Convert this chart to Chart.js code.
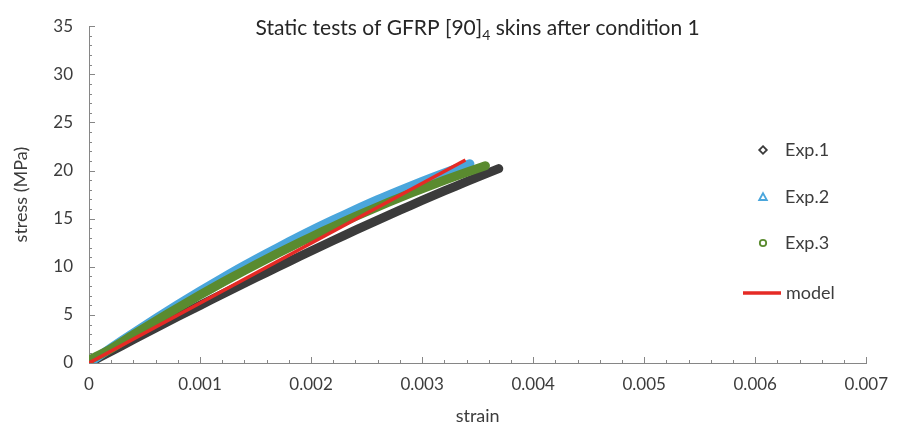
<!DOCTYPE html>
<html>
<head>
<meta charset="utf-8">
<script src="https://cdn.jsdelivr.net/npm/chart.js@4.4.1/dist/chart.umd.min.js"></script>
<style>
  html, body { margin: 0; padding: 0; background: #fff; }
</style>
</head>
<body>
<canvas id="grafica" width="899" height="429"></canvas>
<script>
// strain / stress readings for the three coupons, plus the model line
const strainExp1 = [0, 0.0002, 0.0004, 0.0006, 0.0008, 0.0010, 0.0012, 0.0014, 0.0016, 0.0018, 0.0020, 0.0022, 0.0024, 0.0026, 0.0028, 0.0030, 0.0032, 0.0034, 0.0036, 0.00369];
const stressExp1 = [0, 1.22, 2.43, 3.63, 4.82, 5.99, 7.15, 8.29, 9.42, 10.54, 11.64, 12.73, 13.8, 14.85, 15.88, 16.89, 17.88, 18.84, 19.78, 20.2];

const strainExp2 = [0, 0.0002, 0.0004, 0.0006, 0.0008, 0.0010, 0.0012, 0.0014, 0.0016, 0.0018, 0.0020, 0.0022, 0.0024, 0.0026, 0.0028, 0.0030, 0.0032, 0.00343];
const stressExp2 = [0, 1.59, 3.13, 4.62, 6.07, 7.47, 8.82, 10.13, 11.38, 12.59, 13.76, 14.87, 15.94, 16.97, 17.94, 18.87, 19.75, 20.7];

const strainExp3 = [0, 0.0002, 0.0004, 0.0006, 0.0008, 0.0010, 0.0012, 0.0014, 0.0016, 0.0018, 0.0020, 0.0022, 0.0024, 0.0026, 0.0028, 0.0030, 0.0032, 0.0034, 0.00357];
const stressExp3 = [0.3, 1.5, 2.95, 4.36, 5.74, 7.07, 8.36, 9.6, 10.81, 11.98, 13.1, 14.19, 15.23, 16.23, 17.19, 18.11, 18.99, 19.82, 20.5];

const strainModel = [0, 0.00339];
const stressModel = [0, 21.1];

const xTicks = [0, 0.001, 0.002, 0.003, 0.004, 0.005, 0.006, 0.007];
const yTicks = [0, 5, 10, 15, 20, 25, 30, 35];

const seriesNames = ['Exp.1', 'Exp.2', 'Exp.3', 'model'];
const colores = ['#3b3b3b', '#4aa6dc', '#5a8b2f', '#e52a25'];

const textColor = '#3c3c3c';
const axisColor = '#868686';
const fontFam = 'Lato, "Open Sans", sans-serif';

const pares = (xs, ys) => xs.map((x, i) => ({ x: x, y: ys[i] }));

// ticks inside the plot, majors + minors like the spreadsheet axes
const ticksDentro = {
  id: 'ticksDentro',
  beforeDatasetsDraw(chart) {
    const { ctx, chartArea, scales } = chart;
    ctx.save();
    ctx.strokeStyle = axisColor;
    ctx.lineWidth = 1;
    ctx.beginPath();
    for (let i = 0; i <= 35; i++) {
      const xv = i * 0.0002;
      const px = Math.round(scales.x.getPixelForValue(xv)) + 0.5;
      const len = i % 5 === 0 ? 6 : 3;
      ctx.moveTo(px, chartArea.bottom);
      ctx.lineTo(px, chartArea.bottom - len);
    }
    for (let i = 0; i <= 35; i++) {
      const py = Math.round(scales.y.getPixelForValue(i)) + 0.5;
      const len = i % 5 === 0 ? 6 : 3;
      ctx.moveTo(chartArea.left, py);
      ctx.lineTo(chartArea.left + len, py);
    }
    ctx.stroke();
    ctx.restore();
  }
};

// title with the subscript and the legend floating inside the plot
const tituloLeyenda = {
  id: 'tituloLeyenda',
  afterDraw(chart) {
    const { ctx, chartArea } = chart;
    ctx.save();
    ctx.fillStyle = '#262626';
    ctx.textBaseline = 'middle';
    const big = '21px ' + fontFam;
    const small = '14px ' + fontFam;
    const p1 = 'Static tests of GFRP [90]';
    const p2 = '4';
    const p3 = ' skins after condition 1';
    ctx.font = big;
    const w1 = ctx.measureText(p1).width;
    const w3 = ctx.measureText(p3).width;
    ctx.font = small;
    const w2 = ctx.measureText(p2).width;
    let x = (chartArea.left + chartArea.right) / 2 - (w1 + w2 + w3) / 2;
    const y = 28;
    ctx.textAlign = 'left';
    ctx.font = big;
    ctx.fillText(p1, x, y);
    x += w1;
    ctx.font = small;
    ctx.fillText(p2, x, y + 7);
    x += w2;
    ctx.font = big;
    ctx.fillText(p3, x, y);

    // legend
    const filas = [150, 197, 243, 293];
    const mx = 763;
    ctx.lineWidth = 1.8;
    // diamond
    ctx.strokeStyle = colores[0];
    ctx.beginPath();
    ctx.moveTo(mx, filas[0] - 3.8);
    ctx.lineTo(mx + 3.8, filas[0]);
    ctx.lineTo(mx, filas[0] + 3.8);
    ctx.lineTo(mx - 3.8, filas[0]);
    ctx.closePath();
    ctx.stroke();
    // triangle
    ctx.strokeStyle = colores[1];
    ctx.beginPath();
    ctx.moveTo(mx, filas[1] - 3.8);
    ctx.lineTo(mx + 3.8, filas[1] + 3);
    ctx.lineTo(mx - 3.8, filas[1] + 3);
    ctx.closePath();
    ctx.stroke();
    // circle
    ctx.strokeStyle = colores[2];
    ctx.beginPath();
    ctx.arc(mx, filas[2], 3.2, 0, Math.PI * 2);
    ctx.stroke();
    // model line
    ctx.strokeStyle = colores[3];
    ctx.lineWidth = 3.5;
    ctx.beginPath();
    ctx.moveTo(743, filas[3]);
    ctx.lineTo(781, filas[3]);
    ctx.stroke();

    ctx.fillStyle = textColor;
    ctx.font = '18px ' + fontFam;
    ctx.fillText(seriesNames[0], 785, filas[0]);
    ctx.fillText(seriesNames[1], 785, filas[1]);
    ctx.fillText(seriesNames[2], 785, filas[2]);
    ctx.fillText(seriesNames[3], 786, filas[3]);
    ctx.restore();
  }
};

const exp = (i, xs, ys, orden) => ({
  label: seriesNames[i],
  data: pares(xs, ys),
  borderColor: colores[i],
  backgroundColor: colores[i],
  borderWidth: 9,
  borderCapStyle: 'round',
  borderJoinStyle: 'round',
  pointRadius: 0,
  showLine: true,
  tension: 0.3,
  order: orden
});

new Chart(document.getElementById('grafica'), {
  type: 'scatter',
  data: {
    datasets: [
      exp(0, strainExp1, stressExp1, 4),
      exp(1, strainExp2, stressExp2, 3),
      exp(2, strainExp3, stressExp3, 2),
      {
        label: seriesNames[3],
        data: pares(strainModel, stressModel),
        borderColor: colores[3],
        backgroundColor: colores[3],
        borderWidth: 3.5,
        pointRadius: 0,
        showLine: true,
        order: 1
      }
    ]
  },
  plugins: [ticksDentro, tituloLeyenda],
  options: {
    responsive: false,
    devicePixelRatio: 1,
    animation: false,
    layout: { padding: { top: 17, right: 27, left: 0, bottom: 0 } },
    plugins: {
      legend: { display: false },
      tooltip: { enabled: false }
    },
    scales: {
      x: {
        type: 'linear',
        min: 0,
        max: 0.007,
        afterBuildTicks: s => { s.ticks = xTicks.map(v => ({ value: v })); },
        afterFit: s => { s.height = 66; },
        grid: { display: false, drawTicks: false },
        border: { display: true, color: axisColor, width: 1 },
        ticks: {
          color: textColor,
          font: { family: fontFam, size: 17 },
          padding: 11,
          maxRotation: 0,
          callback: v => v === 0 ? '0' : v.toFixed(3)
        },
        title: {
          display: true,
          text: 'strain',
          color: textColor,
          font: { family: fontFam, size: 18 },
          padding: { top: 0, bottom: 2 }
        }
      },
      y: {
        min: 0,
        max: 35,
        afterBuildTicks: s => { s.ticks = yTicks.map(v => ({ value: v })); },
        afterFit: s => { s.width = 89; },
        grid: { display: false, drawTicks: false },
        border: { display: true, color: axisColor, width: 1 },
        ticks: {
          color: textColor,
          font: { family: fontFam, size: 17 },
          padding: 16
        },
        title: {
          display: true,
          text: 'stress (MPa)',
          color: textColor,
          font: { family: fontFam, size: 18 },
          padding: { top: 10, bottom: 0 }
        }
      }
    }
  }
});
</script>
</body>
</html>
